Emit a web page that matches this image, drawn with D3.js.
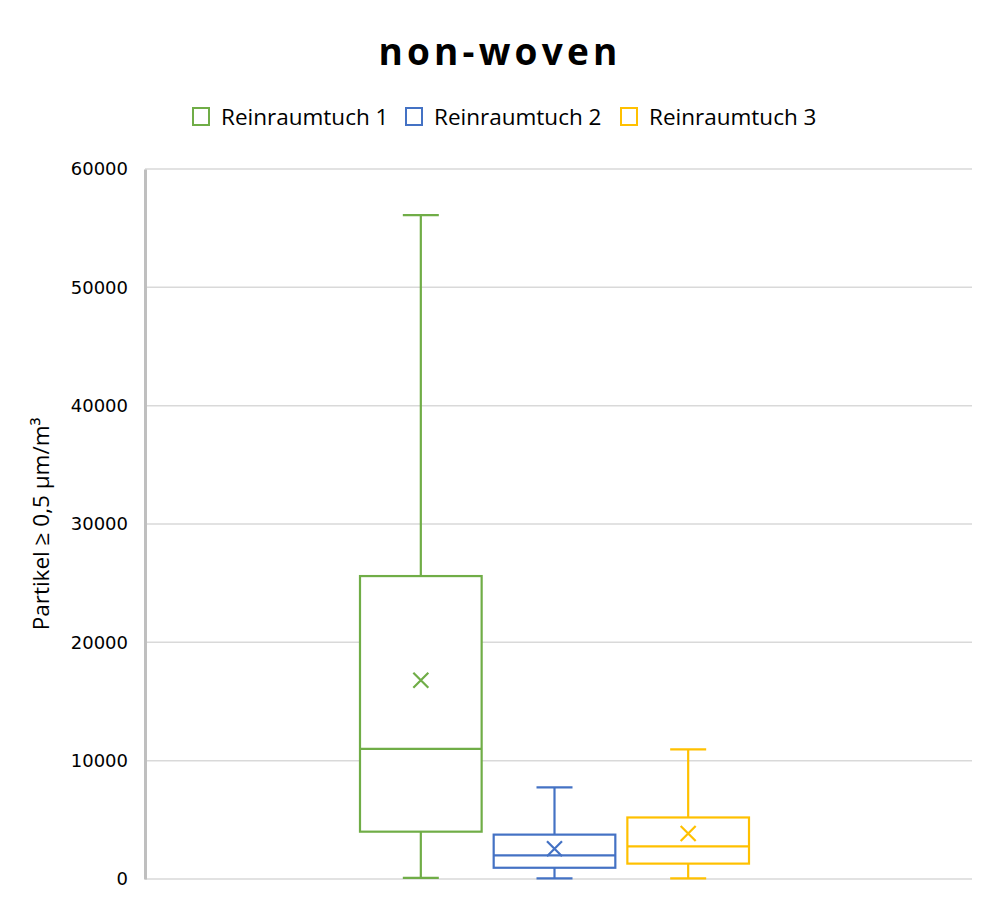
<!DOCTYPE html>
<html>
<head>
<meta charset="utf-8">
<script src="https://cdn.jsdelivr.net/npm/d3@7"></script>
<style>
  html, body { margin: 0; padding: 0; background: #fff; }
  svg { display: block; }
</style>
</head>
<body>
<svg id="chart" width="1000" height="917"></svg>
<script>
// ---- data ----
const title = "non-woven";
const yLabel = "Partikel ≥ 0,5 µm/m³";
const seriesNames = ["Reinraumtuch 1", "Reinraumtuch 2", "Reinraumtuch 3"];
const seriesColors = ["#70AD47", "#4472C4", "#FFC000"];
const whiskerMin = [100, 50, 50];
const q1 = [4000, 950, 1300];
const median = [11000, 2000, 2750];
const q3 = [25600, 3750, 5200];
const whiskerMax = [56100, 7750, 10950];
const mean = [16800, 2550, 3850];
const yTicks = [0, 10000, 20000, 30000, 40000, 50000, 60000];

// ---- layout ----
const svg = d3.select("#chart");
const plotLeft = 145, plotRight = 972, plotTop = 169, plotBottom = 879;

const y = d3.scaleLinear().domain([0, 60000]).range([plotBottom, plotTop]);
const x = d3.scaleBand().domain(seriesNames).range([360, 749]).paddingInner(0.09);

// gridlines
svg.append("g")
  .selectAll("line")
  .data(yTicks)
  .join("line")
  .attr("x1", plotLeft).attr("x2", plotRight)
  .attr("y1", d => y(d)).attr("y2", d => y(d))
  .attr("stroke", "#d9d9d9").attr("stroke-width", 1.5);

// y axis
const yAxis = d3.axisLeft(y).tickValues(yTicks).tickSize(0).tickPadding(17).tickFormat(d3.format("d"));
const gy = svg.append("g").attr("transform", `translate(${plotLeft},0)`).call(yAxis);
gy.select(".domain").attr("stroke", "#bfbfbf").attr("stroke-width", 3);
gy.selectAll("text")
  .attr("font-family", "DejaVu Sans, Verdana, sans-serif")
  .attr("font-size", 18)
  .attr("fill", "#000");

// y label
svg.append("text")
  .attr("transform", `translate(49,${(plotTop + plotBottom) / 2}) rotate(-90)`)
  .attr("text-anchor", "middle")
  .attr("font-family", "Open Sans, sans-serif")
  .attr("font-size", 22.5)
  .attr("fill", "#000")
  .text(yLabel);

// title
svg.append("text")
  .attr("x", 500).attr("y", 65)
  .attr("text-anchor", "middle")
  .attr("font-family", "Open Sans, sans-serif")
  .attr("font-weight", "bold")
  .attr("font-size", 37)
  .attr("letter-spacing", 4.2)
  .attr("fill", "#000")
  .text(title);

// legend
const legendX = [192, 405, 620];
const lg = svg.append("g");
seriesNames.forEach((name, i) => {
  lg.append("rect")
    .attr("x", legendX[i] + 1).attr("y", 108)
    .attr("width", 16).attr("height", 17)
    .attr("fill", "none").attr("stroke", seriesColors[i]).attr("stroke-width", 2);
  lg.append("text")
    .attr("x", legendX[i] + 29).attr("y", 125)
    .attr("font-family", "Open Sans, sans-serif")
    .attr("font-size", 22.5)
    .attr("fill", "#000")
    .text(name);
});

// boxes
const data = seriesNames.map((name, i) => ({
  name, color: seriesColors[i],
  min: whiskerMin[i], q1: q1[i], med: median[i], q3: q3[i], max: whiskerMax[i], mean: mean[i]
}));

const capW = 36;
const g = svg.append("g");
data.forEach(d => {
  const x0 = x(d.name), w = x.bandwidth(), cx = x0 + w / 2;
  const sw = 2.2;
  // whiskers
  g.append("line").attr("x1", cx).attr("x2", cx).attr("y1", y(d.max)).attr("y2", y(d.q3))
    .attr("stroke", d.color).attr("stroke-width", sw);
  g.append("line").attr("x1", cx).attr("x2", cx).attr("y1", y(d.q1)).attr("y2", y(d.min))
    .attr("stroke", d.color).attr("stroke-width", sw);
  g.append("line").attr("x1", cx - capW / 2).attr("x2", cx + capW / 2).attr("y1", y(d.max)).attr("y2", y(d.max))
    .attr("stroke", d.color).attr("stroke-width", sw);
  g.append("line").attr("x1", cx - capW / 2).attr("x2", cx + capW / 2).attr("y1", y(d.min)).attr("y2", y(d.min))
    .attr("stroke", d.color).attr("stroke-width", sw);
  // box
  g.append("rect").attr("x", x0).attr("y", y(d.q3)).attr("width", w).attr("height", y(d.q1) - y(d.q3))
    .attr("fill", "#fff").attr("stroke", d.color).attr("stroke-width", sw);
  // median
  g.append("line").attr("x1", x0).attr("x2", x0 + w).attr("y1", y(d.med)).attr("y2", y(d.med))
    .attr("stroke", d.color).attr("stroke-width", sw);
  // mean marker
  const m = 7.5, my = y(d.mean);
  g.append("path")
    .attr("d", `M${cx - m},${my - m}L${cx + m},${my + m}M${cx - m},${my + m}L${cx + m},${my - m}`)
    .attr("stroke", d.color).attr("stroke-width", sw).attr("fill", "none");
});
</script>
</body>
</html>
